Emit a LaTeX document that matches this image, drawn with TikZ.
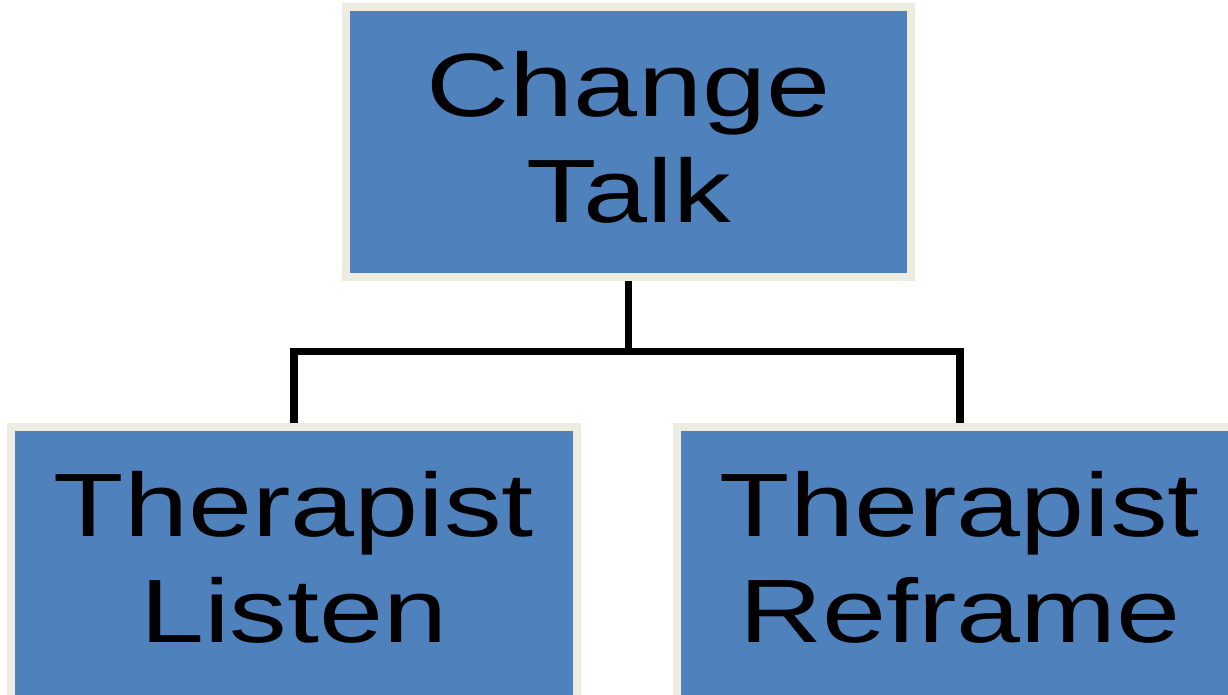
\documentclass[tikz,border=0pt]{standalone}
\usepackage{fontspec}
\newfontfamily\boxfont[FakeStretch=1.28]{Liberation Sans}
\definecolor{boxblue}{HTML}{4F81BD}
\definecolor{boxrim}{HTML}{EEECE1}

\begin{document}
\begin{tikzpicture}[
                blk/.style={draw=boxrim, line width=0.16cm, fill=boxblue,
                            minimum width=11.32cm, inner ysep=0.88cm,
                            align=center,
                            font=\boxfont\fontsize{51.2pt}{60.3pt}\selectfont},
                conn/.style={draw=black, line width=0.15cm}]
                \useasboundingbox (0,0) rectangle (24.56,13.88);
                \node[blk, minimum width=11.3cm, text depth=0.2cm] (top) at (12.57,11.04) {Change\\Talk};
                \node[blk, text depth=1cm] (listen) at (5.88,2.25) {Therapist\\Listen};
                \node[blk, text depth=1cm] (reframe) at (19.2,2.25) {Therapist\\Reframe};
                \draw[conn] (top.south) -- ++(0,-1.42) coordinate (split) -| (listen.north);
                \draw[conn] (split) -| (reframe.north);
            \end{tikzpicture}
\end{document}
